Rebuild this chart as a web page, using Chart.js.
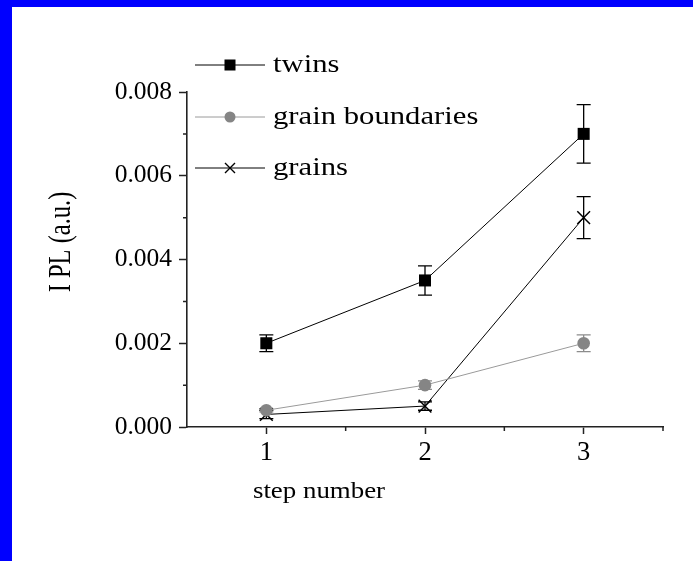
<!DOCTYPE html>
<html>
<head>
<meta charset="utf-8">
<script src="https://cdn.jsdelivr.net/npm/chart.js@4"></script>
<style>
    html, body {
        margin: 0;
        padding: 0;
        background: #0000ff;
        width: 693px;
        height: 561px;
        overflow: hidden;
    }
    #diag {
        position: absolute;
        left: 12px;
        top: 7px;
        background: #ffffff;
    }
</style>
</head>
<body>
<canvas id="diag" width="681" height="554"></canvas>
<script>
const steps = [1, 2, 3];
const seriesNames = ["twins", "grain boundaries", "grains"];
const twins = [0.002, 0.0035, 0.007];
const twinsErr = [0.0002, 0.00035, 0.0007];
const boundaries = [0.0004, 0.001, 0.002];
const boundariesErr = [0.00004, 0.0001, 0.0002];
const grains = [0.0003, 0.0005, 0.005];
const grainsErr = [0.0001, 0.0001, 0.0005];
const yTicks = [0, 0.002, 0.004, 0.006, 0.008];
const yMinor = [0.001, 0.003, 0.005, 0.007];
const xMinor = [1.5, 2.5, 3.5];

const serif = "'Liberation Serif', 'Times New Roman', serif";
const axisColor = "#222";

document.addEventListener("DOMContentLoaded", () => {
    const chart1 = document.getElementById("diag");

    /* Планки погрешностей */
    const errorBars = {
        id: "errorBars",
        beforeDatasetsDraw(chart) {
            const ctx = chart.ctx;
            const xs = chart.scales.x;
            const ys = chart.scales.y;
            chart.data.datasets.forEach(ds => {
                ctx.save();
                ctx.strokeStyle = ds.errColor;
                ctx.lineWidth = 1.3;
                ds.data.forEach((p, i) => {
                    const x = xs.getPixelForValue(p.x);
                    const top = ys.getPixelForValue(p.y + ds.err[i]);
                    const bot = ys.getPixelForValue(p.y - ds.err[i]);
                    ctx.beginPath();
                    ctx.moveTo(x, top);
                    ctx.lineTo(x, bot);
                    ctx.moveTo(x - 7, top);
                    ctx.lineTo(x + 7, top);
                    ctx.moveTo(x - 7, bot);
                    ctx.lineTo(x + 7, bot);
                    ctx.stroke();
                });
                ctx.restore();
            });
        }
    };

    /* Малые риски, подписи осей и легенда */
    const extras = {
        id: "extras",
        afterDraw(chart) {
            const ctx = chart.ctx;
            const xs = chart.scales.x;
            const ys = chart.scales.y;
            const area = chart.chartArea;

            ctx.save();
            ctx.strokeStyle = axisColor;
            ctx.lineWidth = 1.5;
            ctx.beginPath();
            yMinor.forEach(v => {
                const y = ys.getPixelForValue(v);
                ctx.moveTo(area.left, y);
                ctx.lineTo(area.left - 4, y);
            });
            xMinor.forEach(v => {
                const x = xs.getPixelForValue(v);
                ctx.moveTo(x, area.bottom);
                ctx.lineTo(x, area.bottom + 4);
            });
            ctx.stroke();
            ctx.restore();

            // y title
            ctx.save();
            ctx.fillStyle = "#000";
            ctx.font = "24.5px " + serif;
            ctx.textAlign = "center";
            ctx.textBaseline = "middle";
            ctx.translate(50, 235);
            ctx.rotate(-Math.PI / 2);
            ctx.scale(1, 1.3);
            ctx.fillText("I PL (a.u.)", 0, 0);
            ctx.restore();

            // x title
            ctx.save();
            ctx.fillStyle = "#000";
            ctx.font = "24px " + serif;
            ctx.textAlign = "center";
            ctx.textBaseline = "alphabetic";
            ctx.translate(307, 491);
            ctx.scale(1.12, 1);
            ctx.fillText("step number", 0, 0);
            ctx.restore();

            // legend
            const rows = [58, 110, 161];
            chart.data.datasets.forEach((ds, i) => {
                const y = rows[i];
                ctx.save();
                ctx.strokeStyle = ds.borderColor;
                ctx.lineWidth = 1;
                ctx.beginPath();
                ctx.moveTo(183, y);
                ctx.lineTo(253, y);
                ctx.stroke();
                ctx.fillStyle = ds.pointBackgroundColor;
                ctx.strokeStyle = ds.pointBorderColor;
                if (ds.pointStyle === "rect") {
                    ctx.fillRect(218 - 5.5, y - 5.5, 11, 11);
                } else if (ds.pointStyle === "circle") {
                    ctx.beginPath();
                    ctx.arc(218, y, 5.5, 0, Math.PI * 2);
                    ctx.fill();
                } else {
                    ctx.lineWidth = 1.4;
                    ctx.beginPath();
                    ctx.moveTo(213, y - 5);
                    ctx.lineTo(223, y + 5);
                    ctx.moveTo(213, y + 5);
                    ctx.lineTo(223, y - 5);
                    ctx.stroke();
                }
                ctx.fillStyle = "#000";
                ctx.font = "26px " + serif;
                ctx.textBaseline = "middle";
                ctx.translate(261, y);
                ctx.scale(1.18, 1);
                ctx.fillText(ds.label, 0, 0);
                ctx.restore();
            });
        }
    };

    const toPoints = arr => arr.map((v, i) => ({ x: steps[i], y: v }));

    if (chart1) {
        new Chart(chart1, {
            type: "line",
            plugins: [errorBars, extras],
            data: {
                datasets: [{
                    label: seriesNames[0],
                    data: toPoints(twins),
                    err: twinsErr,
                    errColor: "#000",
                    borderColor: "#000",
                    borderWidth: 1,
                    pointStyle: "rect",
                    pointRadius: 8.5,
                    pointBackgroundColor: "#000",
                    pointBorderColor: "#000",
                    pointBorderWidth: 0
                }, {
                    label: seriesNames[1],
                    data: toPoints(boundaries),
                    err: boundariesErr,
                    errColor: "#8c8c8c",
                    borderColor: "#9a9a9a",
                    borderWidth: 1,
                    pointStyle: "circle",
                    pointRadius: 6.3,
                    pointBackgroundColor: "#858585",
                    pointBorderColor: "#858585",
                    pointBorderWidth: 0
                }, {
                    label: seriesNames[2],
                    data: toPoints(grains),
                    err: grainsErr,
                    errColor: "#000",
                    borderColor: "#000",
                    borderWidth: 1,
                    pointStyle: "crossRot",
                    pointRadius: 9,
                    pointBackgroundColor: "#000",
                    pointBorderColor: "#000",
                    pointBorderWidth: 1.5
                }]
            },
            options: {
                responsive: false,
                animation: false,
                layout: {
                    padding: { top: 85, right: 30, left: 0, bottom: 0 }
                },
                plugins: {
                    legend: { display: false },
                    tooltip: { enabled: false }
                },
                scales: {
                    x: {
                        type: "linear",
                        min: 0.5,
                        max: 3.5,
                        afterFit: s => { s.height = 134; },
                        afterBuildTicks: s => { s.ticks = steps.map(v => ({ value: v })); },
                        ticks: {
                            padding: 3,
                            color: "#000",
                            font: { family: serif, size: 26.5 },
                            callback: v => String(v)
                        },
                        grid: {
                            drawOnChartArea: false,
                            tickLength: 7,
                            tickColor: axisColor,
                            tickWidth: 1.5
                        },
                        border: { display: true, color: axisColor, width: 1.6 }
                    },
                    y: {
                        min: yTicks[0],
                        max: yTicks[yTicks.length - 1],
                        afterFit: s => { s.width = 175; },
                        afterBuildTicks: s => { s.ticks = yTicks.map(v => ({ value: v })); },
                        ticks: {
                            padding: 7,
                            color: "#000",
                            font: { family: serif, size: 25.5 },
                            callback: v => v.toFixed(3)
                        },
                        grid: {
                            drawOnChartArea: false,
                            tickLength: 8,
                            tickColor: axisColor,
                            tickWidth: 1.5
                        },
                        border: { display: true, color: axisColor, width: 1.6 }
                    }
                }
            }
        });
    }
});
</script>
</body>
</html>
